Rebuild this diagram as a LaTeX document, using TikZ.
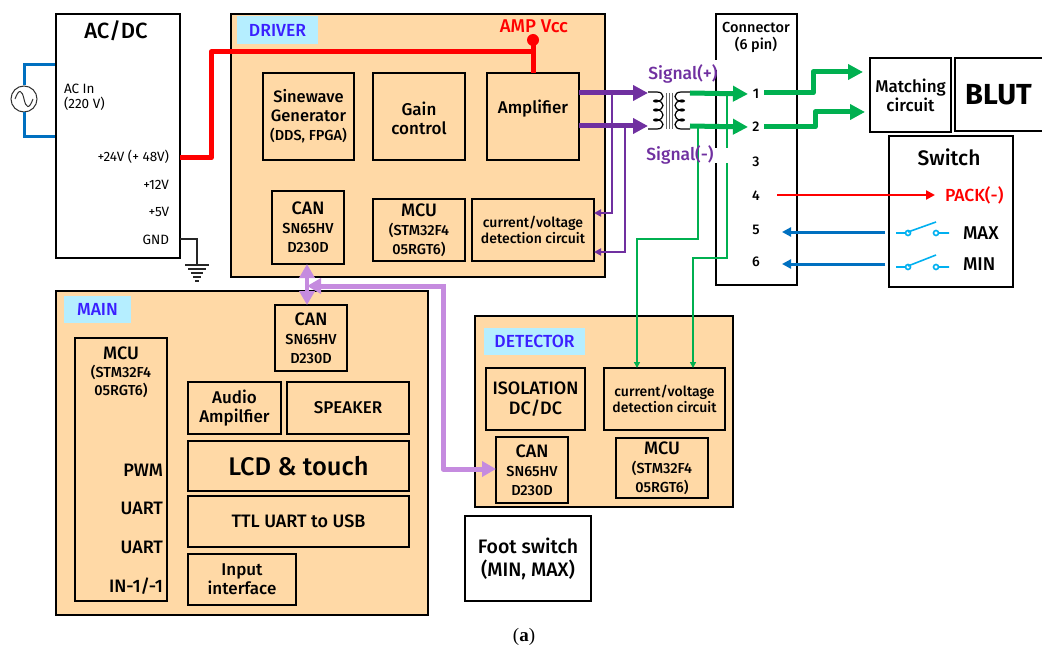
\documentclass[tikz,border=0pt]{standalone}
\usepackage{fontspec}
\setmainfont{Fira Sans}
\newfontfamily\med{Fira Sans Medium}
\newfontfamily\capfont{Liberation Serif}
\usetikzlibrary{arrows.meta}
\definecolor{peach}{HTML}{FFD9A6}
\definecolor{tagc}{HTML}{B5EEFF}
\definecolor{tagt}{HTML}{3A1FFF}
\definecolor{pur}{HTML}{7030A0}
\definecolor{grn}{HTML}{00B050}
\definecolor{blu}{HTML}{0070C0}
\definecolor{cya}{HTML}{00B0F0}
\definecolor{lil}{HTML}{C58BDF}
\newcommand\fbig{\fontsize{18}{19}\selectfont}
\newcommand\fsmal{\fontsize{14.5}{16}\selectfont}
\tikzset{
  sz/.style 2 args={font=\med\fontsize{#1}{#2}\selectfont},
  panel/.style={draw=black,line width=2pt,fill=peach,inner sep=0pt,outer sep=0pt,align=center,sz={17}{19}},
  whitebox/.style={draw=black,line width=2pt,fill=white,inner sep=0pt,outer sep=0pt,align=center},
  tag/.style={fill=tagc,text=tagt,inner sep=0pt,outer sep=0pt,sz={17.5}{18}},
  lab/.style={inner sep=0pt,outer sep=0pt,align=center},
  thickred/.style={draw=red,line width=5pt},
  purarrow/.style={draw=pur,line width=5pt,-{Triangle[length=15pt,width=15pt]}},
  grnarrow/.style={draw=grn,line width=5pt,-{Triangle[length=15pt,width=15pt]}},
  purthin/.style={draw=pur,line width=2pt,-{Triangle[length=7pt,width=7pt]}},
  grnthin/.style={draw=grn,line width=1.7pt,-{Triangle[length=6pt,width=6pt]}},
  bluarrow/.style={draw=blu,line width=3pt,-{Triangle[length=9pt,width=9pt]}},
  cyanline/.style={draw=cya,line width=1.6pt},
}
\newcommand\bx[7]{\node[#6,minimum width={(#4-#2)*1pt},minimum height={(#5-#3)*1pt}] (#1) at ({(#2+#4)/2},{(#3+#5)/2}) {#7};}
\begin{document}
\begin{tikzpicture}[x=1pt,y=-1pt]
\useasboundingbox (0,0) rectangle (1042,650);
% main boxes
\bx{acdc}{56}{14}{180}{258}{whitebox}{}
\bx{driver}{231}{14}{605}{277}{panel}{}
\bx{main}{56}{291}{428}{615}{panel}{}
\bx{detector}{475}{316}{733}{507}{panel}{}
\bx{conn}{716}{14}{797}{285}{whitebox}{}
\bx{foot}{465}{516}{591}{601}{whitebox,sz={19.5}{23}}{Foot switch\\(MIN, MAX)}
\bx{match}{870}{58}{951}{132}{whitebox,sz={17}{19}}{Matching\\circuit}
\bx{blut}{955}{58}{1050}{131}{whitebox,font=\bfseries\fontsize{29}{30}\selectfont}{\hspace{-8pt}BLUT}
\bx{switch}{889}{136}{1013}{287}{whitebox}{}
% tags
\bx{tdriver}{237}{16}{318}{44}{tag}{DRIVER}
\bx{tmain}{64}{296}{131}{323}{tag}{MAIN}
\bx{tdet}{484}{328}{585}{355}{tag}{DETECTOR}
% driver
\bx{sine}{263}{73}{354}{160}{panel}{\fontsize{16.5}{19}\selectfont Sinewave\\\fontsize{16.5}{19}\selectfont Generator\\\fontsize{14.5}{17}\selectfont (DDS, FPGA)}
\bx{gain}{373}{73}{465}{160}{panel,sz={17}{19}}{\rule{0pt}{18pt}Gain\\control}
\bx{amp}{487}{73}{579}{160}{panel,sz={17}{19}}{Amplifier\\[0pt]\mbox{}}
\bx{dcan}{272}{191}{344}{264}{panel}{\fbig CAN\\\fsmal SN65HV\\\fsmal D230D}
\bx{dmcu}{373}{199}{465}{261}{panel}{\fbig MCU\\\fsmal (STM32F4\\\fsmal 05RGT6)}
\bx{dcv}{472}{199}{594}{261}{panel,sz={14}{16.5}}{current/voltage\\detection circuit}
% main
\bx{mcan}{275}{305}{347}{371}{panel}{\fbig CAN\\\fsmal SN65HV\\\fsmal D230D}
\bx{mmcu}{75}{338}{167}{601}{panel}{}
\bx{audio}{188}{382}{281}{434}{panel,sz={17}{19}}{Audio\\Ampilfier}
\bx{speaker}{287}{382}{409}{434}{panel,sz={17}{19}}{SPEAKER}
\bx{lcd}{188}{441}{409}{491}{panel,font=\med\fontsize{25.5}{28}\selectfont}{LCD \& touch}
\bx{ttl}{188}{496}{409}{547}{panel,sz={18}{19}}{TTL UART to USB}
\bx{input}{188}{554}{296}{605}{panel,sz={17}{19}}{Input\\interface}
% detector
\bx{iso}{486}{368}{585}{430}{panel,sz={18}{20}}{ISOLATION\\DC/DC}
\bx{ecv}{604}{368}{725}{430}{panel,sz={14}{16.5}}{current/voltage\\detection circuit}
\bx{ecan}{496}{437}{568}{503}{panel}{\fbig CAN\\\fsmal SN65HV\\\fsmal D230D}
\bx{emcu}{616}{438}{708}{498}{panel}{\fbig MCU\\\fsmal (STM32F4\\\fsmal 05RGT6)}
% labels
\node[lab,sz={22}{24}] (lacdc) at (116,31) {AC/DC};
\node[lab,font=\fontsize{13.5}{15}\selectfont,align=left,anchor=west] (lacin) at (64,97) {AC In\\(220 V)};
\node[lab,font=\fontsize{13.5}{14}\selectfont,anchor=east] (l24) at (169,157) {+24V (+ 48V)};
\node[lab,font=\fontsize{13.5}{14}\selectfont,anchor=east] (l12) at (169,185) {+12V};
\node[lab,font=\fontsize{13.5}{14}\selectfont,anchor=east] (l5) at (169,212) {+5V};
\node[lab,font=\fontsize{13.5}{14}\selectfont,anchor=east] (lgnd) at (169,240) {GND};
\node[lab,sz={14.5}{17}] (lconn) at (756,37) {Connector\\(6 pin)};
\node[lab,sz={21}{22}] (lsw) at (949,157) {Switch};
\node[lab,sz={17.5}{18},text=red,anchor=west] (lpack) at (945,195) {PACK(-)};
\node[lab,sz={18.5}{18},anchor=west] (lmax) at (963,233) {MAX};
\node[lab,sz={18.5}{18},anchor=west] (lmin) at (963,264) {MIN};
\node[lab,sz={18.5}{18},text=red] (lvcc) at (534,26) {AMP Vcc};
\node[lab,sz={18}{18}] (lmmcu) at (121,372) {\fbig MCU\\\fsmal (STM32F4\\\fsmal 05RGT6)};
\node[lab,sz={18}{18},anchor=east] (lpwm) at (163,470) {PWM};
\node[lab,sz={18}{18},anchor=east] (lu1) at (163,508) {UART};
\node[lab,sz={18}{18},anchor=east] (lu2) at (163,547) {UART};
\node[lab,sz={18}{18},anchor=east] (lin) at (163,586) {IN-1/-1};
\node[lab,sz={14}{15}] (n1) at (756,94) {1};
\node[lab,sz={14}{15}] (n2) at (756,127) {2};
\node[lab,sz={14}{15}] (n3) at (756,162) {3};
\node[lab,sz={14}{15}] (n4) at (756,196) {4};
\node[lab,sz={14}{15}] (n5) at (756,230) {5};
\node[lab,sz={14}{15}] (n6) at (756,262) {6};
\node[lab,font=\capfont\fontsize{19}{22}\selectfont] (cap) at (524,637) {(\textbf{a})};
% coordinates
\coordinate (acin1) at (55,65); \coordinate (acin2) at (55,137);
\node[circle,draw=black!80,line width=1pt,minimum size=26pt,inner sep=0pt,fill=white] (ac) at (24,99) {};
\coordinate (dot) at (533,40);
\coordinate (tl1) at (648,92); \coordinate (tl2) at (648,129);
\coordinate (tr1) at (690,93); \coordinate (tr2) at (690,126);
% AC source
\draw[blu,line width=3pt] (acin1) -- (acin1 -| ac) -- (ac.north);
\draw[blu,line width=3pt] (acin2) -- (acin2 -| ac) -- (ac.south);
\draw[black!80,line width=1pt] (15,99) .. controls (19,88) and (22,90) .. (24,99) .. controls (26,108) and (29,110) .. (33,99);
% power
\draw[thickred,line join=round] (180,158) -- (211,158) -- (211,52) -- (533,52);
\draw[thickred] (amp.north) -- (dot);
\fill[red] (dot) circle (6);
% ground
\coordinate (g0) at (180,239); \coordinate (g1) at (197,265);
\draw[black!85,line width=1.2pt] (g0) -| (g1);
\draw[black!85,line width=1.3pt] (185,265) -- (209,265) (188,269) -- (206,269) (191,273) -- (203,273) (193,277) -- (201,277) (195,281) -- (199,281);
% purple
\draw[purthin] (612,93) -- (612,213) -- (dcv.east |- 0,213);
\draw[purthin] (625,126) -- (625,252) -- (dcv.east |- 0,252);
\draw[purarrow] (amp.east |- 0,93) -- (tl1 |- 0,93);
\draw[purarrow] (amp.east |- 0,126) -- (tl2 |- 0,126);
% transformer
\draw[black,line width=1.2pt] (tl1) -- (657,92) .. controls (665,92) and (665,101) .. (657,101) .. controls (665,101) and (665,110) .. (657,110) .. controls (665,110) and (665,120) .. (657,120) .. controls (665,120) and (665,129) .. (657,129) -- (tl2);
\draw[black,line width=1.2pt] (690,92) -- (681,92) .. controls (673,92) and (673,101) .. (681,101) .. controls (673,101) and (673,110) .. (681,110) .. controls (673,110) and (673,120) .. (681,120) .. controls (673,120) and (673,129) .. (681,129) -- (690,129);
\foreach \yy in {101,110,120}{\fill (656,\yy) ellipse (3 and 1.6); \fill (682,\yy) ellipse (3 and 1.6);}
\draw[black!60,line width=1pt] (666,93) -- (666,129) (669,93) -- (669,129) (672,93) -- (672,129);
% white patches of the label halos
\fill[white] (714,148) rectangle (729,163);
\fill[white] (714,60) rectangle (718,70);
% green
\draw[grnthin] (727,93) -- (727,258) -- (693,258) -- (693,368);
\draw[grnthin] (698,126) -- (698,239) -- (637,239) -- (637,368);
\fill[white] (722,148) rectangle (732,163);
\draw[grnarrow] (tr1) -- (n1.west -| 748,0) ;
\draw[grnarrow] (tr2) -- (n2.west -| 748,0);
\draw[grnarrow,line join=round] (764,93) -- (813,93) -- (813,72) -- (863,72);
\draw[grnarrow,line join=round] (764,127) -- (815,127) -- (815,112) -- (865,112);
% red, blue right
\draw[draw=red,line width=2.6pt,-{Triangle[length=9pt,width=9pt]}] (777,195) -- (935,195);
\draw[bluarrow] (885,232) -- (782,232);
\draw[bluarrow] (885,264) -- (782,264);
% switches
\draw[cyanline] (896,233) -- (906,233) (938.5,233) -- (949,233) (908,232) -- (936,222);
\draw[cyanline] (908,233) circle (2.5) (936,233) circle (2.5);
\draw[cyanline] (896,267) -- (906,267) (938.5,267) -- (949,267) (908,266) -- (936,255);
\draw[cyanline] (908,267) circle (2.5) (936,267) circle (2.5);
% CAN bus
\draw[lil,line width=4pt,{Triangle[length=14pt,width=15pt]}-{Triangle[length=14pt,width=15pt]}] (dcan.south -| 307,0) -- (mcan.north -| 307,0);
\draw[lil,line width=5pt,line join=round,-{Triangle[length=14pt,width=15pt]}] (443,286) -- (307,286);
\draw[lil,line width=5pt,line join=round,-{Triangle[length=14pt,width=15pt]}] (443,284) -- (443,469) -- (ecan.west |- 0,469);
% signal labels
\node[lab,sz={17.5}{18},text=pur] (sp) at (683,74) {Signal(+)};
\node[lab,sz={17.5}{18},text=pur] (sm) at (680,155) {Signal(-)};
\end{tikzpicture}
\end{document}
